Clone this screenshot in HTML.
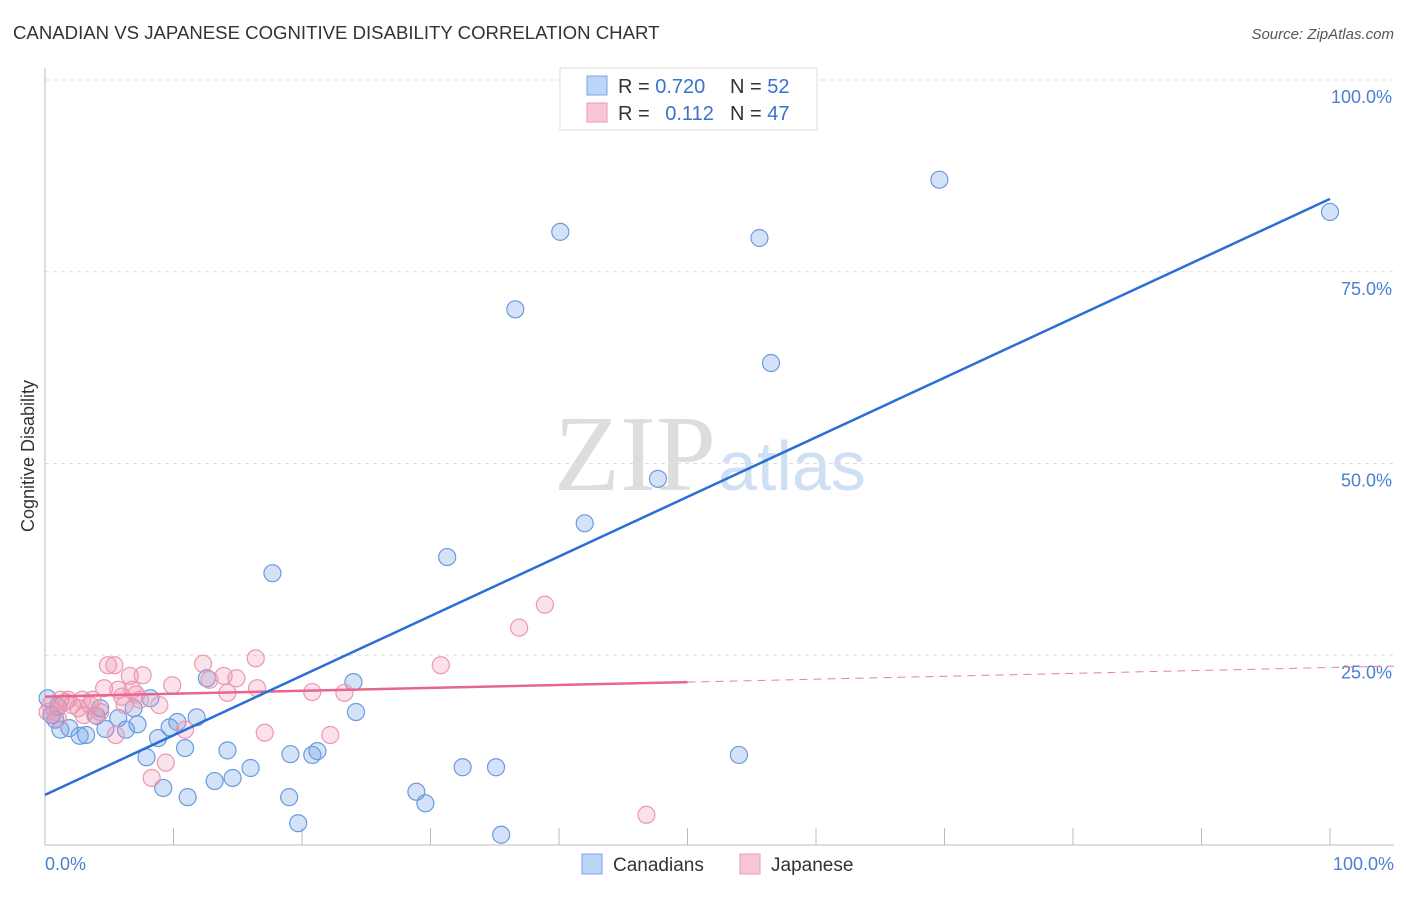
<!DOCTYPE html>
<html><head><meta charset="utf-8"><style>
body{margin:0;background:#fff;font-family:"Liberation Sans",sans-serif}
</style></head><body>
<svg width="1406" height="892" xmlns="http://www.w3.org/2000/svg" font-family="Liberation Sans, sans-serif">
<text x="13" y="39" font-size="18.6" fill="#333">CANADIAN VS JAPANESE COGNITIVE DISABILITY CORRELATION CHART</text>
<text x="1394" y="39" font-size="15" fill="#555" font-style="italic" text-anchor="end">Source: ZipAtlas.com</text>
<text x="716" y="490" font-size="108" font-family="Liberation Serif, serif" fill="#ddd" text-anchor="end">ZIP</text>
<text x="718" y="490" font-size="70" fill="#cfe0f5">atlas</text>
<g id="grid"></g>
<g id="axes"></g>
<g id="marks"></g>
<text transform="translate(34,456) rotate(-90)" font-size="18" fill="#333" text-anchor="middle">Cognitive Disability</text>
<text x="45" y="870" font-size="18" fill="#4a7fd4">0.0%</text>
<text x="1394" y="870" font-size="18" fill="#4a7fd4" text-anchor="end">100.0%</text>
<g>
<rect x="560" y="68" width="257" height="62" fill="#fff" stroke="#ddd"/>
<rect x="587" y="76" width="20" height="19" fill="#bcd4f5" stroke="#7aa5e5"/>
<rect x="587" y="103" width="20" height="19" fill="#f8c6d4" stroke="#ec9ab2"/>
<text x="618" y="93" font-size="20" fill="#333">R = <tspan fill="#3a72d0">0.720</tspan></text>
<text x="730" y="93" font-size="20" fill="#333">N = <tspan fill="#3a72d0">52</tspan></text>
<text x="618" y="120" font-size="20" fill="#333">R = <tspan fill="#3a72d0" dx="10">0.112</tspan></text>
<text x="730" y="120" font-size="20" fill="#333">N = <tspan fill="#3a72d0">47</tspan></text>
</g>
<g>
<rect x="582" y="854" width="20" height="20" fill="#bcd4f5" stroke="#7aa5e5"/>
<text x="613" y="871" font-size="19" fill="#333">Canadians</text>
<rect x="740" y="854" width="20" height="20" fill="#f8c6d4" stroke="#ec9ab2"/>
<text x="771" y="871" font-size="19" fill="#333">Japanese</text>
</g>
</svg>
<script>
const yTicks=[25,50,75,100];
const yTickLabels=["25.0%","50.0%","75.0%","100.0%"];
const xTicks=[10,20,30,40,50,60,70,80,90,100];
const canX=[0.2,0.5,1.0,1.2,1.9,2.7,3.2,4.0,4.3,4.7,5.7,6.3,6.9,7.2,8.2,7.9,8.8,9.2,9.7,10.3,10.9,11.1,11.8,12.6,13.2,14.2,14.6,16.0,17.7,19.0,19.1,19.7,20.8,21.2,24.0,24.2,28.9,29.6,31.3,32.5,35.1,35.5,36.6,40.1,42.0,47.7,54.0,55.6,56.5,69.6,100.0,0.8];
const canY=[19.4,17.2,18.3,15.3,15.5,14.5,14.6,17.1,18.1,15.4,16.8,15.3,18.1,16.0,19.4,11.7,14.2,7.7,15.6,16.3,12.9,6.5,16.9,22.0,8.6,12.6,9.0,10.3,35.7,6.5,12.1,3.1,12.0,12.5,21.5,17.6,7.2,5.7,37.8,10.4,10.4,1.6,70.1,80.2,42.2,48.0,12.0,79.4,63.1,87.0,82.8,16.6];
const japX=[0.4,0.8,1.2,1.6,2.1,2.6,3.0,3.5,3.7,4.3,4.6,4.9,5.4,5.5,5.7,6.0,6.6,6.8,7.1,7.6,8.3,8.9,9.4,9.9,10.9,12.3,12.8,13.9,14.2,14.9,16.4,16.5,17.1,20.8,22.2,23.3,30.8,36.9,38.9,46.8,0.2,1.0,1.8,2.9,3.9,6.2,7.4];
const japY=[18.5,17.6,19.2,18.9,18.5,18.1,17.2,18.5,19.2,17.6,20.7,23.7,23.7,14.6,20.5,19.6,22.3,20.5,19.9,22.4,9.0,18.5,11.0,21.1,15.3,23.9,21.8,22.3,20.1,22.0,24.6,20.7,14.9,20.2,14.6,20.1,23.7,28.6,31.6,4.2,17.6,16.8,19.2,19.2,17.2,18.5,19.2];
const canTrend=[6.8,84.5];
const japTrend=[19.6,23.4];
const japSolidEnd=50;
const NS="http://www.w3.org/2000/svg";
const X=v=>45+v*12.85, Y=v=>847-v*7.67;
function mk(tag,attrs,parent){const e=document.createElementNS(NS,tag);for(const k in attrs)e.setAttribute(k,attrs[k]);document.getElementById(parent).appendChild(e);return e;}
yTicks.forEach((t,i)=>{
 const l=mk('line',{x1:45,x2:1394,y1:Y(t),y2:Y(t),stroke:'#ddd','stroke-dasharray':'4,4'},'grid');
 
 
 const tx=mk('text',{x:1392,y:Y(t)+23,'font-size':18,fill:'#4a7fd4','text-anchor':'end'},'grid');
 tx.textContent=yTickLabels[i];
 
 
});
let a=mk('line',{x1:45,x2:45,y1:68,y2:845,stroke:'#bbb'},'axes');


a=mk('line',{x1:45,x2:1394,y1:845,y2:845,stroke:'#bbb'},'axes');


xTicks.forEach(t=>{
 const l=mk('line',{x1:X(t),x2:X(t),y1:828,y2:845,stroke:'#bbb'},'axes');
 
 
});
canX.forEach((x,i)=>{
 const c=mk('circle',{cx:X(x),cy:Y(canY[i]),r:8.5,fill:'rgba(110,160,230,0.3)',stroke:'#6a9be0','stroke-width':1.2},'marks');
 
 
});
japX.forEach((x,i)=>{
 const c=mk('circle',{cx:X(x),cy:Y(japY[i]),r:8.5,fill:'rgba(240,140,170,0.25)',stroke:'#eb98b2','stroke-width':1.2},'marks');
 
 
});
const jy=x=>japTrend[0]+(japTrend[1]-japTrend[0])*x/100;
let t=mk('line',{x1:X(japSolidEnd),y1:Y(jy(japSolidEnd)),x2:1394,y2:Y(jy(105)),stroke:'#eb7fa0','stroke-width':1,'stroke-dasharray':'8,6'},'marks');


t=mk('line',{x1:X(0),y1:Y(jy(0)),x2:X(japSolidEnd),y2:Y(jy(japSolidEnd)),stroke:'#e8658e','stroke-width':2.5},'marks');


t=mk('line',{x1:X(0),y1:Y(canTrend[0]),x2:X(100),y2:Y(canTrend[1]),stroke:'#2a6fd6','stroke-width':2.5},'marks');


</script>
</body></html>
